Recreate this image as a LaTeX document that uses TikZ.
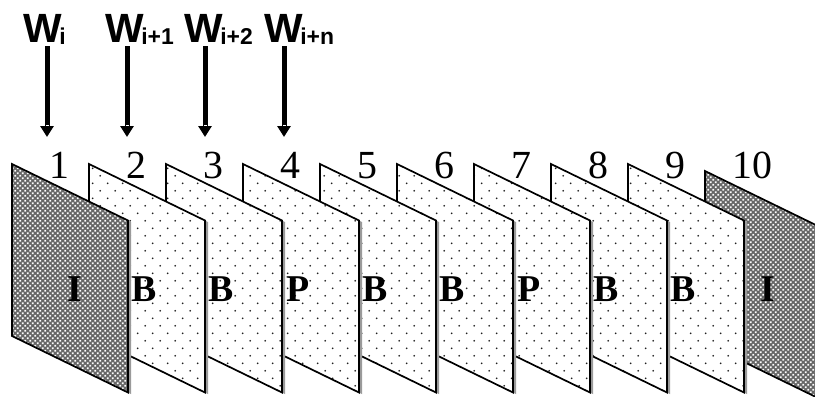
\documentclass[tikz,border=0pt]{standalone}
\usepackage{fontspec}
\setmainfont{Liberation Serif}
\newfontfamily\wfont{Liberation Sans}
\usepackage{xcolor}
\definecolor{frshadow}{HTML}{9A9A9A}
\definecolor{frdark}{HTML}{666666}
\definecolor{frdot}{HTML}{202020}
\usetikzlibrary{arrows.meta,patterns,calc}

\pgfdeclarepatternformonly{framedots}{\pgfqpoint{0pt}{0pt}}{\pgfqpoint{15pt}{15pt}}{\pgfqpoint{15pt}{15pt}}{%
  \pgfpathcircle{\pgfqpoint{3.75pt}{3.75pt}}{1pt}%
  \pgfpathcircle{\pgfqpoint{11.25pt}{11.25pt}}{1pt}%
  \pgfusepath{fill}}
\pgfdeclarepatternformonly{framechecks}{\pgfqpoint{0pt}{0pt}}{\pgfqpoint{5pt}{5pt}}{\pgfqpoint{5pt}{5pt}}{%
  \pgfpathrectangle{\pgfqpoint{0.35pt}{0.35pt}}{\pgfqpoint{1.8pt}{1.8pt}}%
  \pgfpathrectangle{\pgfqpoint{2.85pt}{2.85pt}}{\pgfqpoint{1.8pt}{1.8pt}}%
  \pgfusepath{fill}}

\newcommand\wsub[1]{\kern-2.5bp\raisebox{-2bp}{\fontsize{23}{25}\selectfont #1}}

\begin{document}
\begin{tikzpicture}[x=1bp,y=-1bp,
  frame/.style={draw,line width=1.7bp,line join=miter},
  frB/.style={frame,pattern=framedots,pattern color=frdot,preaction={fill=white}},
  frP/.style={frB},
  frI/.style={frame,pattern=framechecks,pattern color=white,preaction={fill=frdark}},
  num/.style={font=\fontsize{40}{44}\selectfont,inner sep=0pt,anchor=base},
  kind/.style={font=\fontsize{38}{40}\selectfont\bfseries,inner sep=0pt,anchor=base},
  wlab/.style={font=\wfont\bfseries\fontsize{41}{44}\selectfont,inner sep=0pt,anchor=base west},
  feed/.style={line width=5bp,-{Bar[white,width=3bp,line width=1.3bp,sep=0pt]Triangle[width=13bp,length=11bp]}}]
\useasboundingbox (0,0) rectangle (815,396);

\foreach \k/\kind in {10/I,9/B,8/B,7/P,6/B,5/B,4/P,3/B,2/B,1/I} {
  \pgfmathsetmacro\fx{12+77*(\k-1)}
  \pgfmathsetmacro\fy{ifthenelse(\k==10,171,164)}
  \pgfmathsetmacro\dx{ifthenelse(\k==1 || \k==10,63,55)}
  \coordinate (f\k) at (\fx,\fy);
  \fill[frshadow] ([shift={(3,1.5)}]f\k) -- ++(116,56.5) -- ++(0,172) -- ++(-116,-56.5) -- cycle;
  \draw[fr\kind] (f\k) -- ++(116,56.5) -- ++(0,172) -- ++(-116,-56.5) -- cycle;
  \node[num] (n\k) at (\fx+47,178) {\k};
  \node[kind] (t\k) at (\fx+\dx,301) {\kind};
}

\foreach \wx/\ax/\sub [count=\j] in {23/47/i,105/127/i+1,184/205/i+2,264/284/i+n} {
  \node[wlab] (w\j) at (\wx,42) {W\wsub{\sub}};
  \coordinate (h\j) at (\ax,137);
  \draw[feed] (\ax,46) -- (h\j);
}
\end{tikzpicture}
\end{document}
